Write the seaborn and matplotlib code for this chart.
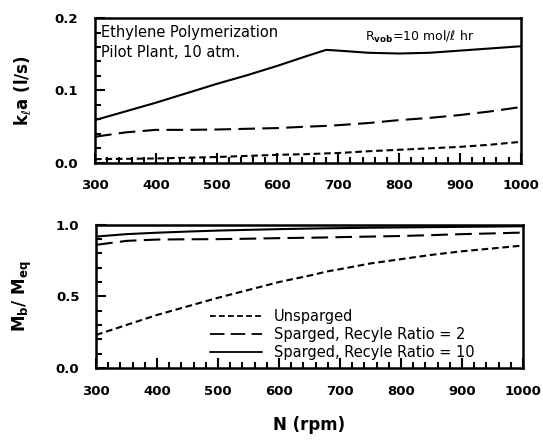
import numpy as np
import pandas as pd
import seaborn as sns
import matplotlib.pyplot as plt
from matplotlib.ticker import MultipleLocator
from matplotlib.lines import Line2D

# Impeller speed grid (rpm)
rpm = [300, 350, 400, 450, 500, 550, 600, 650, 680, 700, 750, 800, 850, 900, 950, 1000]

# Volumetric mass-transfer coefficient kla (1/s)
kla_unsparged = [0.005, 0.0055, 0.006, 0.007, 0.008, 0.0095, 0.011, 0.012, 0.013, 0.0135,
                 0.016, 0.018, 0.020, 0.022, 0.025, 0.029]
kla_ratio2 = [0.036, 0.042, 0.0455, 0.0455, 0.046, 0.047, 0.048, 0.050, 0.051, 0.052,
              0.055, 0.059, 0.062, 0.066, 0.071, 0.077]
kla_ratio10 = [0.059, 0.071, 0.083, 0.096, 0.109, 0.121, 0.134, 0.148, 0.156, 0.155,
               0.152, 0.151, 0.152, 0.155, 0.158, 0.161]

# Relative monomer saturation Mb/Meq
mb_unsparged = [0.23, 0.30, 0.37, 0.43, 0.49, 0.545, 0.60, 0.645, 0.675, 0.69,
                0.73, 0.76, 0.79, 0.815, 0.835, 0.855]
mb_ratio2 = [0.86, 0.888, 0.897, 0.899, 0.90, 0.903, 0.907, 0.91, 0.912, 0.914,
             0.918, 0.922, 0.928, 0.935, 0.94, 0.946]
mb_ratio10 = [0.918, 0.935, 0.945, 0.953, 0.96, 0.965, 0.97, 0.974, 0.976, 0.977,
              0.98, 0.982, 0.984, 0.986, 0.988, 0.99]

series_names = ["Unsparged", "Sparged, Recyle Ratio = 2", "Sparged, Recyle Ratio = 10"]
dash_styles = {series_names[0]: (3.2, 1.8), series_names[1]: (8, 3.5), series_names[2]: ""}

def long_table(values):
    frames = [pd.DataFrame({"N": rpm, "y": v, "case": name})
              for name, v in zip(series_names, values)]
    return pd.concat(frames, ignore_index=True)

top_df = long_table([kla_unsparged, kla_ratio2, kla_ratio10])
bot_df = long_table([mb_unsparged, mb_ratio2, mb_ratio10])

sns.set_style("ticks")
plt.rcParams["font.family"] = ["DejaVu Sans"]
plt.rcParams["mathtext.fontset"] = "dejavusans"
plt.rcParams["text.color"] = "black"
plt.rcParams["axes.labelcolor"] = "black"
plt.rcParams["xtick.color"] = "black"
plt.rcParams["ytick.color"] = "black"

fig = plt.figure(figsize=(5.43, 4.40), dpi=100)
ax1 = fig.add_axes([0.175, 0.630, 0.784, 0.329])
ax2 = fig.add_axes([0.177, 0.164, 0.786, 0.325])

for ax, df in ((ax1, top_df), (ax2, bot_df)):
    sns.lineplot(data=df, x="N", y="y", hue="case", style="case",
                 dashes=dash_styles, palette=["black"] * 3,
                 linewidth=1.5, legend=False, ax=ax, estimator=None)
    ax.set_xlim(300, 1000)
    ax.xaxis.set_major_locator(MultipleLocator(100))
    ax.xaxis.set_minor_locator(MultipleLocator(20))
    ax.tick_params(axis="both", which="both", direction="in", labelsize=9.5,
                   width=1.5, color="black", labelcolor="black")
    ax.tick_params(axis="both", which="major", length=7)
    ax.tick_params(axis="both", which="minor", length=4)
    ax.tick_params(axis="x", pad=12)
    ax.tick_params(axis="y", pad=12)
    for sp in ax.spines.values():
        sp.set_linewidth(1.8)
        sp.set_color("black")
    for lab in ax.get_xticklabels():
        lab.set_fontweight("bold")
    ax.set_xlabel("")

ax1.set_ylim(0.0, 0.2)
ax1.yaxis.set_minor_locator(MultipleLocator(0.02))
ax1.set_yticks([0.0, 0.1, 0.2])
ax1.set_yticklabels(["0.0", "0.1", "0.2"], fontweight="bold")
ax1.set_ylabel(r"k$_\ell$a (l/s)", fontsize=12, fontweight="bold", labelpad=16)

ax2.set_ylim(0.0, 1.0)
ax2.yaxis.set_minor_locator(MultipleLocator(0.1))
ax2.set_yticks([0.0, 0.5, 1.0])
ax2.set_yticklabels(["0.0", "0.5", "1.0"], fontweight="bold")
ax2.set_ylabel(r"M$_\mathbf{b}$/ M$_\mathbf{eq}$", fontsize=12, fontweight="bold", labelpad=16)
ax2.set_xlabel("N (rpm)", fontsize=12, fontweight="bold", labelpad=13)

ax1.text(0.015, 0.955, "Ethylene Polymerization\nPilot Plant, 10 atm.",
         transform=ax1.transAxes, ha="left", va="top", fontsize=10.5,
         linespacing=1.45)
ax1.text(0.635, 0.925, r"R$_{\mathbf{vob}}$=10 mol/ℓ hr",
         transform=ax1.transAxes, ha="left", va="top", fontsize=9)

handles = [Line2D([], [], color="black", lw=1.3, dashes=dash_styles[n]) if dash_styles[n]
           else Line2D([], [], color="black", lw=1.3) for n in series_names]
ax2.legend(handles, series_names, loc="lower left", bbox_to_anchor=(0.235, -0.035),
           frameon=False, fontsize=10.5, handlelength=3.6, handletextpad=0.8,
           labelspacing=0.18)

fig.savefig("out.png", dpi=100)
